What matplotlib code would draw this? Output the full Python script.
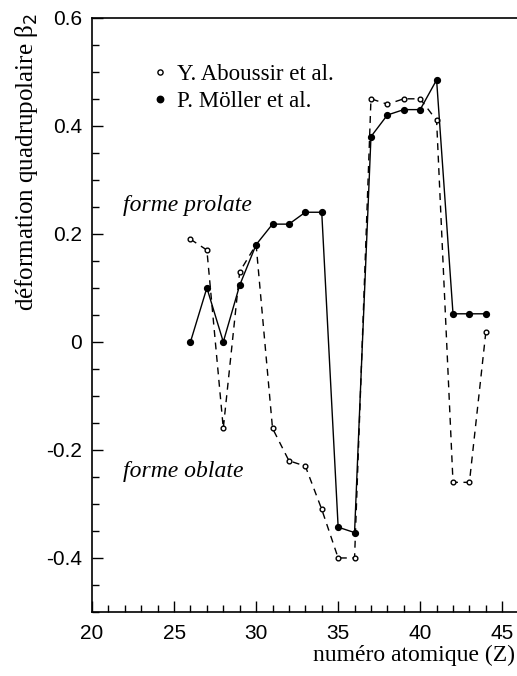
import matplotlib
matplotlib.use("Agg")
import matplotlib.pyplot as plt
from matplotlib.ticker import MultipleLocator, FixedFormatter, FixedLocator

# Numéro atomique Z
z_values = [26, 27, 28, 29, 30, 31, 32, 33, 34, 35, 36, 37, 38, 39, 40, 41, 42, 43, 44]

# Déformation quadrupolaire beta_2
beta_aboussir = [0.19, 0.17, -0.16, 0.13, 0.18, -0.16, -0.22, -0.23, -0.31, -0.40,
                 -0.40, 0.45, 0.44, 0.45, 0.45, 0.41, -0.26, -0.26, 0.018]
beta_moller = [0.0, 0.10, 0.0, 0.105, 0.18, 0.218, 0.218, 0.24, 0.24, -0.343,
               -0.353, 0.38, 0.42, 0.43, 0.43, 0.485, 0.052, 0.052, 0.052]

x_ticks = [20, 25, 30, 35, 40, 45]
x_tick_labels = ["20", "25", "30", "35", "40", "45"]
y_ticks = [-0.4, -0.2, 0.0, 0.2, 0.4, 0.6]
y_tick_labels = ["-0.4", "-0.2", "0", "0.2", "0.4", "0.6"]

serif = ["Liberation Serif", "DejaVu Serif"]
sans = ["Liberation Sans", "DejaVu Sans"]

fig = plt.figure(figsize=(5.17, 6.76), dpi=100)
ax = fig.add_axes([0.178, 0.0947, 0.822, 0.879])

ax.plot(z_values, beta_aboussir, color="black", lw=1.0, ls=(0, (5, 4)),
        marker="o", ms=3.4, mfc="white", mec="black", mew=1.0,
        label="Y. Aboussir et al.")
ax.plot(z_values, beta_moller, color="black", lw=1.0, ls="-",
        marker="o", ms=4.2, mfc="black", mec="black",
        label="P. Möller et al.")

ax.set_xlim(20, 45.9)
ax.set_ylim(-0.5, 0.6)

ax.xaxis.set_major_locator(FixedLocator(x_ticks))
ax.xaxis.set_major_formatter(FixedFormatter(x_tick_labels))
ax.xaxis.set_minor_locator(MultipleLocator(1))
ax.yaxis.set_major_locator(FixedLocator(y_ticks))
ax.yaxis.set_major_formatter(FixedFormatter(y_tick_labels))
ax.yaxis.set_minor_locator(MultipleLocator(0.05))

ax.tick_params(which="both", direction="in", top=False, right=False,
               width=1.0, labelsize=15)
ax.tick_params(axis="x", pad=9)
ax.tick_params(axis="y", pad=7)
ax.tick_params(which="major", length=8)
ax.tick_params(which="minor", length=5)
for lab in ax.get_xticklabels() + ax.get_yticklabels():
    lab.set_family(sans)

for side in ("left", "bottom", "top"):
    ax.spines[side].set_linewidth(1.2)
ax.spines["right"].set_visible(False)

ax.set_ylabel("déformation quadrupolaire β$_2$", family=serif, fontsize=18)
ax.yaxis.set_label_coords(-0.122, 0.757)
ax.set_xlabel("numéro atomique (Z)", family=serif, fontsize=17)
ax.xaxis.set_label_coords(0.995, -0.055)
ax.xaxis.label.set_horizontalalignment("right")
ax.xaxis.label.set_verticalalignment("top")

ax.text(21.9, 0.243, "forme prolate", family=serif, style="italic", fontsize=17)
ax.text(21.9, -0.25, "forme oblate", family=serif, style="italic", fontsize=17)

leg = ax.legend(loc="upper left", bbox_to_anchor=(0.125, 0.937), frameon=False,
                prop={"family": serif, "size": 16.5}, handlelength=0.5,
                handletextpad=0.5, labelspacing=0.25, borderaxespad=0,
                markerscale=1.1)
for h in leg.legend_handles:
    h.set_linestyle("none")

fig.savefig("out.png", dpi=100)
